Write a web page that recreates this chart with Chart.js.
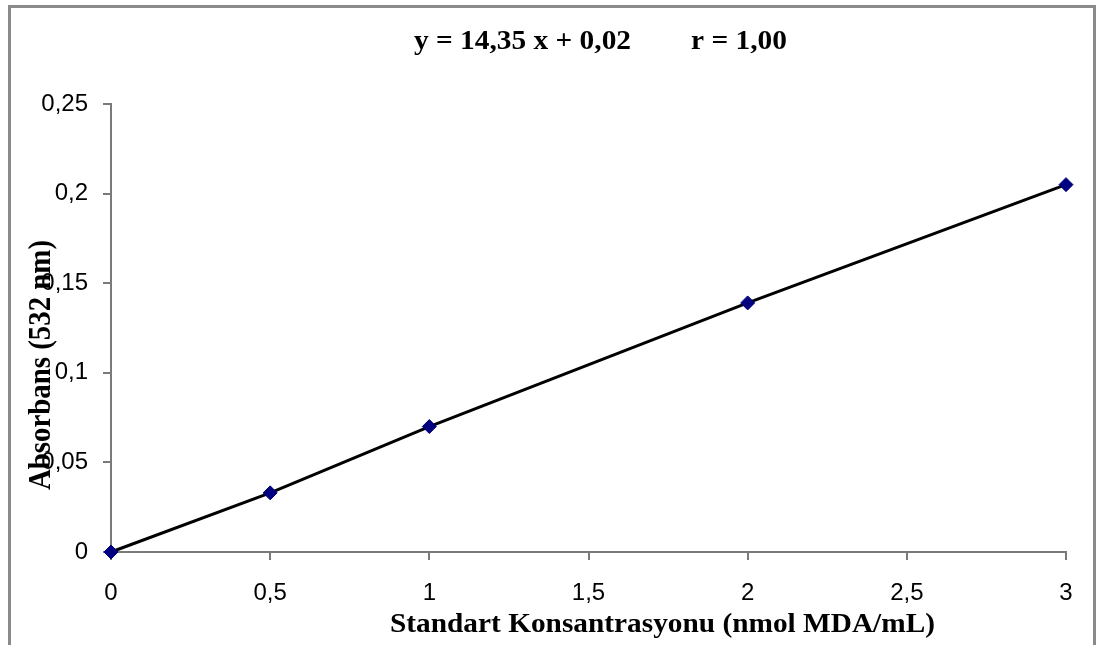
<!DOCTYPE html>
<html lang="tr">
<head>
    <meta charset="UTF-8">
    <title>MDA Standart Eğrisi</title>
    <script src="https://cdn.jsdelivr.net/npm/chart.js"></script>
    <style>
        body {
            margin: 0;
            padding: 0;
            background: #fff;
            overflow: hidden;
        }
        canvas {
            display: block;
        }
    </style>
</head>
<body>
    <canvas id="mdaChart" width="1098" height="645"></canvas>

    <script>
        // values
        const concentrations = [0, 0.5, 1, 2, 3];
        const absorbances = [0, 0.033, 0.07, 0.139, 0.205];

        const equationText = "y = 14,35 x + 0,02";
        const rText = "r = 1,00";
        const xTitle = "Standart Konsantrasyonu (nmol MDA/mL)";
        const yTitle = "Absorbans (532 nm)";

        const serif = '"Liberation Serif", "Times New Roman", serif';

        function commaNum(v) {
            return String(Math.round(v * 100) / 100).replace(".", ",");
        }

        // draws text squeezed/stretched to a given width
        function fitText(ctx, text, x, y, width, font) {
            ctx.save();
            ctx.font = font;
            let w = ctx.measureText(text).width;
            ctx.translate(x, y);
            ctx.scale(width / w, 1);
            ctx.textAlign = "left";
            ctx.textBaseline = "alphabetic";
            ctx.fillText(text, 0, 0);
            ctx.restore();
        }

        const textPlugin = {
            id: "texts",
            beforeDraw(chart) {
                let ctx = chart.ctx;
                ctx.save();
                ctx.strokeStyle = "#8a8a8a";
                ctx.lineWidth = 3;
                ctx.beginPath();
                ctx.moveTo(9.5, 700);
                ctx.lineTo(9.5, 6.5);
                ctx.lineTo(1094.5, 6.5);
                ctx.lineTo(1094.5, 700);
                ctx.stroke();
                ctx.restore();
            },
            afterDraw(chart) {
                let ctx = chart.ctx;
                ctx.fillStyle = "#000";
                fitText(ctx, equationText, 414, 49, 217, "bold 28px " + serif);
                fitText(ctx, rText, 691, 49, 96, "bold 28px " + serif);
                fitText(ctx, xTitle, 390, 632, 545, "bold 28px " + serif);

                ctx.save();
                ctx.translate(50, 490);
                ctx.rotate(-Math.PI / 2);
                ctx.scale(1, 1.15);
                fitText(ctx, yTitle, 0, 0, 250, "bold 28px " + serif);
                ctx.restore();
            }
        };

        const axisColor = "#7a7a7a";
        const tickFont = { family: 'Arial, "Liberation Sans", sans-serif', size: 24 };

        new Chart(document.getElementById("mdaChart"), {
            type: "scatter",
            data: {
                datasets: [{
                    data: concentrations.map((c, i) => ({ x: c, y: absorbances[i] })),
                    showLine: true,
                    clip: false,
                    borderColor: "#000",
                    borderWidth: 3,
                    pointStyle: "rectRot",
                    pointRadius: 7,
                    pointBackgroundColor: "#000080",
                    pointBorderColor: "#000080",
                    pointBorderWidth: 1
                }]
            },
            options: {
                responsive: false,
                animation: false,
                layout: { padding: { top: 104, right: 32, left: 0, bottom: 0 } },
                plugins: {
                    legend: { display: false },
                    tooltip: { enabled: false },
                    title: { display: false }
                },
                scales: {
                    x: {
                        type: "linear",
                        min: 0,
                        max: 3,
                        afterFit: (scale) => { scale.height = 93; },
                        ticks: {
                            stepSize: 0.5,
                            color: "#000",
                            font: tickFont,
                            padding: 19,
                            maxRotation: 0,
                            callback: (v) => commaNum(v)
                        },
                        grid: {
                            display: true,
                            drawOnChartArea: false,
                            drawTicks: true,
                            tickLength: 8,
                            color: axisColor,
                            lineWidth: 2
                        },
                        border: { display: true, color: axisColor, width: 2 }
                    },
                    y: {
                        min: 0,
                        max: 0.25,
                        afterFit: (scale) => { scale.width = 111; },
                        ticks: {
                            stepSize: 0.05,
                            color: "#000",
                            font: tickFont,
                            padding: 15,
                            callback: (v) => commaNum(v)
                        },
                        grid: {
                            display: true,
                            drawOnChartArea: false,
                            drawTicks: true,
                            tickLength: 8,
                            color: axisColor,
                            lineWidth: 2
                        },
                        border: { display: true, color: axisColor, width: 2 }
                    }
                }
            },
            plugins: [textPlugin]
        });
    </script>
</body>
</html>
